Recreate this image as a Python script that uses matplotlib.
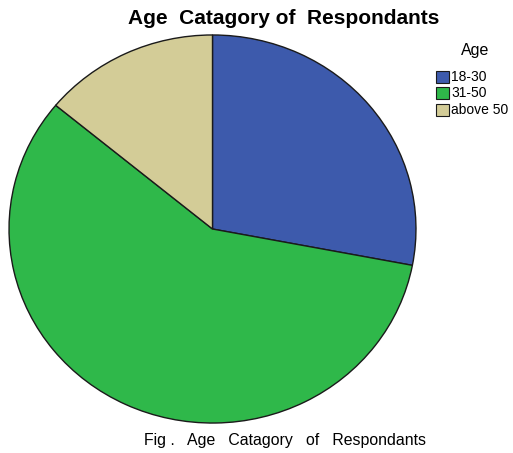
import matplotlib
matplotlib.use("Agg")
import matplotlib.pyplot as plt
from matplotlib.patches import Rectangle

plt.rcParams['font.family'] = ['Liberation Sans', 'DejaVu Sans']

categories = ["18-30", "31-50", "above 50"]
shares = [28, 58, 14]
colors = ["#3D5AAC", "#2FB84A", "#D3CC97"]

W, H = 513, 453
fig = plt.figure(figsize=(W / 100, H / 100), dpi=100)

# pie area in pixel units (slightly wider than tall)
left, top, pw, ph = 8, 34, 409, 390
ax = fig.add_axes([left / W, 1 - (top + ph) / H, pw / W, ph / H])
ax.pie(shares, colors=colors, startangle=90, counterclock=False,
       radius=1.0, wedgeprops=dict(edgecolor="#1a1a1a", linewidth=1.0))
ax.set_aspect('auto')
ax.set_xlim(-1.005, 1.005)
ax.set_ylim(-1.005, 1.005)
ax.axis('off')

fig.text(284 / W, 1 - 18 / H, "Age  Catagory of  Respondants", ha='center',
         va='center', fontsize=15, fontweight='bold')

fig.text(285 / W, 1 - 441 / H, "Fig .   Age   Catagory   of   Respondants",
         ha='center', va='center', fontsize=11.4)

# legend
fig.text(475 / W, 1 - 51 / H, "Age", ha='center', va='center', fontsize=11.5)
ys = [77, 93, 110]
for y, c, lab in zip(ys, colors, categories):
    fig.patches.append(Rectangle((436 / W, 1 - (y + 6) / H), 13 / W, 12 / H,
                                 transform=fig.transFigure, facecolor=c,
                                 edgecolor="#1a1a1a", linewidth=0.8))
    fig.text(451 / W, 1 - y / H, lab, ha='left', va='center', fontsize=10)

fig.savefig("out.png", dpi=100)
